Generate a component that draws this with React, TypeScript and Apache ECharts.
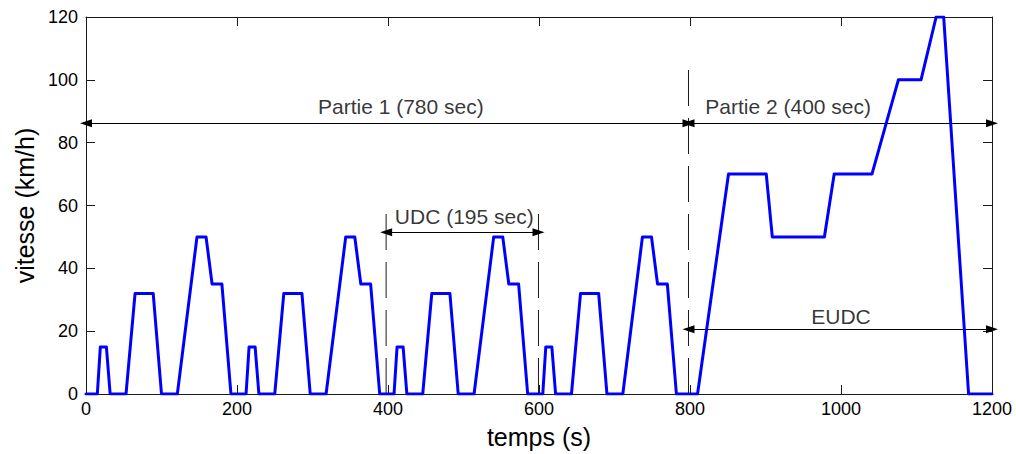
import React, { useEffect, useRef } from "react";
import * as echarts from "echarts";

// NEDC speed profile (time in s, speed in km/h)
const TIME = [
  0, 15, 19, 27, 32, 53, 65, 89, 100, 121, 147, 159, 167, 180, 192,
  212, 216, 224, 229, 250, 262, 286, 297, 318, 344, 356, 364, 377, 389,
  408, 412, 420, 425, 446, 458, 482, 493, 514, 540, 552, 560, 573, 585,
  605, 609, 617, 622, 643, 655, 679, 690, 711, 737, 749, 757, 770, 782,
  810, 851, 901, 909, 978, 991, 1041, 1076, 1106, 1126, 1136, 1169, 1200,
];
const SPEED = [
  0, 0, 15, 15, 0, 0, 32, 32, 0, 0, 50, 50, 35, 35, 0,
  0, 15, 15, 0, 0, 32, 32, 0, 0, 50, 50, 35, 35, 0,
  0, 15, 15, 0, 0, 32, 32, 0, 0, 50, 50, 35, 35, 0,
  0, 15, 15, 0, 0, 32, 32, 0, 0, 50, 50, 35, 35, 0,
  0, 70, 70, 50, 50, 70, 70, 100, 100, 120, 120, 0, 0,
];

// Annotations
const LABEL_TEXTS = ["Partie 1 (780 sec)", "Partie 2 (400 sec)", "UDC (195 sec)", "EUDC"];
const LABEL_X = [417, 930, 501, 1000];
const LABEL_Y = [91.5, 91.6, 56.5, 24.6];

const ARROW_FROM = [0, 798, 397.5, 798];
const ARROW_TO = [798, 1200, 599.3, 1200];
const ARROW_Y = [86.2, 86.2, 51.5, 20.6];

const VLINE_X = [798, 397.5, 599.3];
const VLINE_TOP = [104, 59.3, 59.3];

const X_MIN = 0;
const X_MAX = 1200;
const X_STEP = 200;
const Y_MIN = 0;
const Y_MAX = 120;
const Y_STEP = 20;

const FONT = "'Liberation Sans', Arial, Helvetica, sans-serif";
const AXIS_COLOR = "#1a1a1a";

export default function App() {
  const ref = useRef<HTMLDivElement>(null);

  useEffect(() => {
    if (!ref.current) return;
    const chart = echarts.init(ref.current, undefined, { renderer: "svg" });

    const speedData = TIME.map((t, i) => [t, SPEED[i]]);

    const vlineSeries = VLINE_X.map((x, i) => ({
      type: "line",
      data: [
        [x, 0],
        [x, VLINE_TOP[i]],
      ],
      showSymbol: false,
      silent: true,
      lineStyle: { color: AXIS_COLOR, width: 1, type: [36, 12] },
      z: 3,
    }));

    const arrowData = ARROW_Y.map((y, i) => [
      { coord: [ARROW_FROM[i], y], symbolSize: [8, 12] },
      { coord: [ARROW_TO[i], y], symbolSize: [8, 12] },
    ]);

    const labelData = LABEL_TEXTS.map((name, i) => ({
      name,
      value: [LABEL_X[i], LABEL_Y[i]],
    }));

    const mainAxisCommon = {
      axisLine: { show: true, onZero: false, lineStyle: { color: AXIS_COLOR, width: 1 } },
      axisTick: { show: true, inside: true, length: 9, lineStyle: { color: AXIS_COLOR } },
      splitLine: { show: false },
    };

    chart.setOption({
      animation: false,
      backgroundColor: "#ffffff",
      textStyle: { fontFamily: FONT },
      grid: { left: 86, right: 24, top: 17, bottom: 60, containLabel: false },
      xAxis: [
        {
          type: "value",
          min: X_MIN,
          max: X_MAX,
          interval: X_STEP,
          position: "bottom",
          name: "temps (s)",
          nameLocation: "middle",
          nameGap: 30,
          nameTextStyle: { fontSize: 25, color: "#000", fontFamily: FONT },
          axisLabel: {
            fontSize: 18,
            color: "#000",
            margin: 6,
            fontFamily: FONT,
            formatter: (v: number) => String(v),
          },
          ...mainAxisCommon,
        },
        {
          type: "value",
          min: X_MIN,
          max: X_MAX,
          interval: X_STEP,
          position: "top",
          axisLabel: { show: false },
          ...mainAxisCommon,
        },
      ],
      yAxis: [
        {
          type: "value",
          min: Y_MIN,
          max: Y_MAX,
          interval: Y_STEP,
          position: "left",
          name: "vitesse (km/h)",
          nameLocation: "middle",
          nameGap: 48,
          nameRotate: 90,
          nameTextStyle: { fontSize: 25, color: "#000", fontFamily: FONT },
          axisLabel: {
            fontSize: 18,
            color: "#000",
            margin: 8,
            fontFamily: FONT,
            formatter: (v: number) => String(v),
          },
          ...mainAxisCommon,
        },
        {
          type: "value",
          min: Y_MIN,
          max: Y_MAX,
          interval: Y_STEP,
          position: "right",
          axisLabel: { show: false },
          ...mainAxisCommon,
        },
      ],
      series: [
        {
          type: "line",
          name: "NEDC",
          data: speedData,
          showSymbol: false,
          lineStyle: { color: "#0000ff", width: 3, join: "round", cap: "round" },
          itemStyle: { color: "#0000ff" },
          z: 5,
        },
        ...vlineSeries,
        {
          type: "line",
          data: [],
          silent: true,
          markLine: {
            silent: true,
            symbol: ["triangle", "triangle"],
            symbolSize: [8, 12],
            label: { show: false },
            lineStyle: { color: "#000", width: 1, type: "solid" },
            emphasis: { disabled: true },
            data: arrowData,
          },
          z: 4,
        },
        {
          type: "scatter",
          data: labelData,
          symbolSize: 0,
          silent: true,
          label: {
            show: true,
            position: "inside",
            formatter: "{b}",
            fontSize: 21,
            color: "#000",
            fontFamily: FONT,
            align: "center",
            verticalAlign: "middle",
          },
          z: 6,
        },
      ],
    });

    return () => chart.dispose();
  }, []);

  return (
    <div
      ref={ref}
      style={{ position: "fixed", left: 0, top: 0, width: 1016, height: 454, background: "#fff" }}
    />
  );
}
